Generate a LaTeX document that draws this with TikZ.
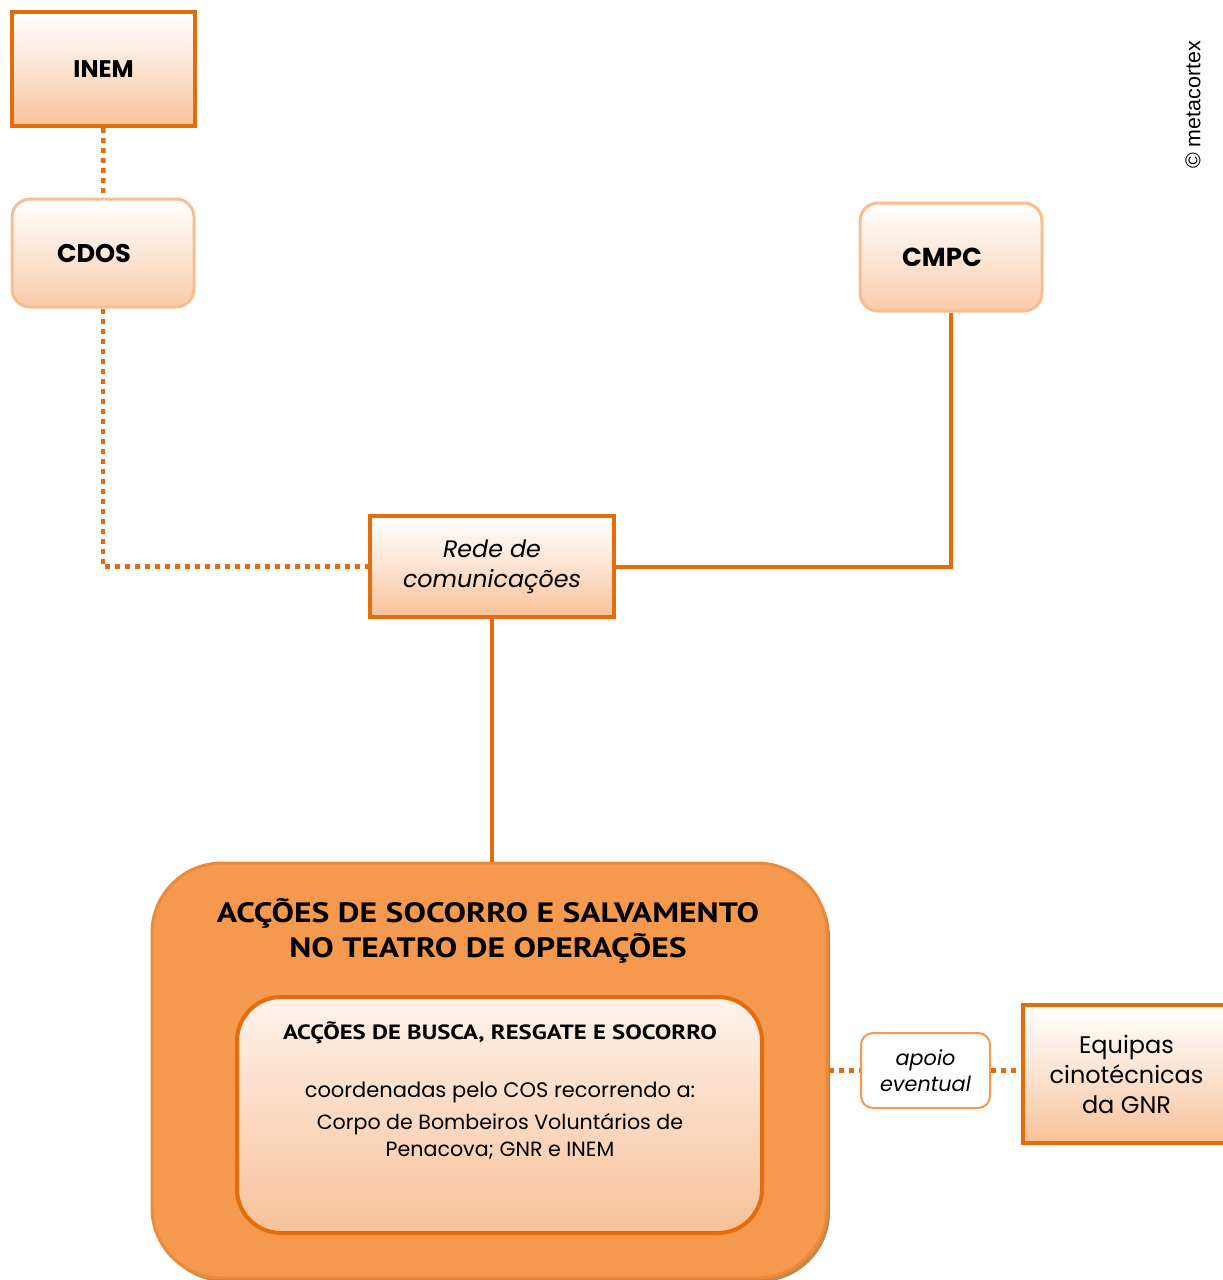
\documentclass[tikz,border=0pt]{standalone}
\usepackage{fontspec}
\setmainfont{Poppins}
\newfontfamily\headfont[FakeStretch=1.2]{PT Sans}
\newfontfamily\markfont{Liberation Sans}
\usetikzlibrary{shadows}

\definecolor{orDark}{HTML}{E46C0A}
\definecolor{orLight}{HTML}{F9BE8E}
\definecolor{orPeach}{HTML}{F8C199}
\definecolor{orFill}{HTML}{F5994F}
\definecolor{orEdge}{HTML}{EC8A3C}
\definecolor{orShade}{HTML}{B5651F}

\tikzset{
  unitbox/.style={draw=orDark, line width=2pt, top color=white, bottom color=orPeach, middle color=orPeach!45!white, align=center},
  roundbox/.style={draw=orLight, line width=1.5pt, rounded corners=9pt, top color=white, bottom color=orPeach!85!white, middle color=orPeach!40!white, align=center},
  solidlink/.style={draw=orDark, line width=2pt},
  dotlink/.style={draw=orDark, line width=2.3pt, dash pattern=on 2.5pt off 2.5pt},
}

\begin{document}
\begin{tikzpicture}[x=0.5pt, y=-0.5pt]
    \useasboundingbox (0,0) rectangle (1222,1280);

    % topo
    \node[unitbox, minimum width=91.5pt, minimum height=57pt, font=\bfseries\fontsize{12}{14}\selectfont] (inem) at (103.5,69) {INEM};
    \node[roundbox, minimum width=91pt, minimum height=54pt, font=\bfseries\fontsize{12.8}{14}\selectfont] (cdos) at (103,253) {CDOS\hspace*{9pt}};
    \node[roundbox, minimum width=91pt, minimum height=54pt, font=\bfseries\fontsize{13}{14}\selectfont] (cmpc) at (951,257) {CMPC\hspace*{9pt}};
    \node[unitbox, minimum width=122pt, minimum height=50.5pt, font=\itshape\fontsize{11.9}{15}\selectfont] (rede) at (492,566.5) {Rede de\\comunicações};

    % caixa grande
    \node[draw=orEdge, line width=1.5pt, fill=orFill, rounded corners=35pt, minimum width=337.5pt, minimum height=207.5pt,
          drop shadow={shadow xshift=1.5pt, shadow yshift=-2pt, fill=orShade, opacity=0.8}] (big) at (489.5,1070.5) {};
    \node[font=\headfont\bfseries\fontsize{14}{17.5}\selectfont, align=center] (salv) at (488,930.5) {ACÇÕES DE SOCORRO E SALVAMENTO\\NO TEATRO DE OPERAÇÕES};

    \node[draw=orDark, line width=2pt, rounded corners=22pt, top color=orPeach!20!white, bottom color=orPeach, minimum width=262.5pt, minimum height=118pt] (busca) at (499.5,1115) {};
    \node[font=\headfont\bfseries\fontsize{10.3}{12}\selectfont] (buscat) at (500,1033) {ACÇÕES DE BUSCA, RESGATE E SOCORRO};
    \node[font=\fontsize{10.5}{12}\selectfont] (cos) at (500,1092) {coordenadas pelo COS recorrendo a:};
    \node[font=\fontsize{10.3}{13.5}\selectfont, align=center] (cbv) at (500,1136.5) {Corpo de Bombeiros Voluntários de\\Penacova; GNR e INEM};

    % lado direito
    \node[draw=orFill, line width=1pt, rounded corners=6pt, fill=white, minimum width=64.5pt, minimum height=37.5pt, align=center, font=\itshape\fontsize{10.4}{13}\selectfont] (apoio) at (925.5,1070.5) {apoio\\eventual};
    \node[unitbox, minimum width=103.5pt, minimum height=69pt, font=\fontsize{12}{15}\selectfont] (gnr) at (1126.5,1074) {Equipas\\cinotécnicas\\da GNR};

    \node[rotate=90, font=\markfont\fontsize{10.7}{12}\selectfont] (mark) at (1193,105) {© metacortex};

    % ligacoes
    \draw[dotlink] (inem) -- (cdos);
    \draw[dotlink] (cdos.south) |- (rede.west);
    \draw[solidlink] (cmpc.south) |- (rede.east);
    \draw[solidlink] (rede.south) -- (rede.south |- big.north);
    \draw[dotlink] (big.east) -- (apoio.west);
    \draw[dotlink] (apoio.east) -- (apoio.east -| gnr.west);
\end{tikzpicture}
\end{document}
